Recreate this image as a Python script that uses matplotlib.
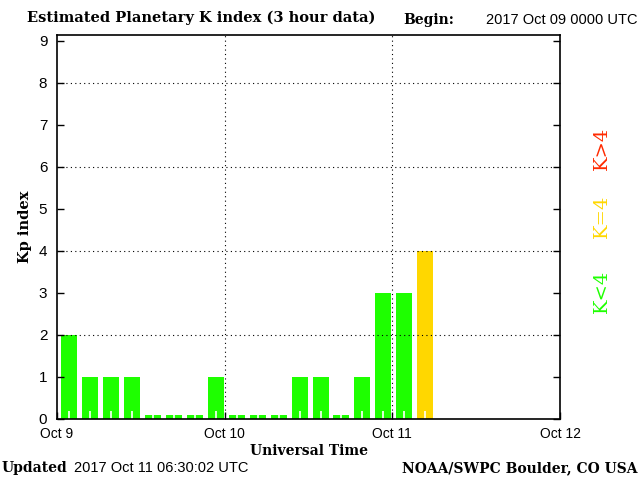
import numpy as np
import matplotlib
matplotlib.use('Agg')
import matplotlib.pyplot as plt

# Kp values, 3 hour intervals starting 2017 Oct 09 0000 UTC
kp = [2, 1, 1, 1, 0, 0, 0, 1,
      0, 0, 0, 1, 1, 0, 1, 3,
      3, 4]
day_labels = ['Oct 9', 'Oct 10', 'Oct 11', 'Oct 12']

green = '#1eff00'
yellow = '#ffd700'
red = '#ff2a00'

hours = np.arange(len(kp)) * 3 + 1.72
heights = [v if v > 0 else 0.09 for v in kp]
colors = [green if v < 4 else (yellow if v == 4 else red) for v in kp]

fig = plt.figure(figsize=(6.4, 4.8), dpi=100)
ax = fig.add_axes([57 / 640, 61 / 480, 503 / 640, 384 / 480])

ax.bar(hours, heights, width=2.29, color=colors, linewidth=0)
# petites marques blanches au centre des barres
ax.vlines(hours, 0, 0.2, color='white', linewidth=1.2)

ax.set_xlim(0, 72)
ax.set_ylim(0, 9.14)
ax.set_xticks([0, 24, 48, 72])
ax.set_xticklabels(day_labels, fontsize=10, family='Liberation Sans')
ax.set_yticks(range(10))
ax.set_yticklabels([str(i) for i in range(10)], fontsize=11, family='Liberation Sans')
ax.tick_params(direction='in', length=5, width=1, right=True, pad=6)
ax.tick_params(axis='y', pad=7)

for y in [2, 4, 6, 8]:
    ax.axhline(y, color='black', linestyle=(0, (1, 3)), linewidth=0.8)
for x in [24, 48]:
    ax.axvline(x, color='black', linestyle=(0, (1, 3)), linewidth=0.8)

for s in ax.spines.values():
    s.set_linewidth(1.2)

ax.set_xlabel('Universal Time', fontsize=10, fontweight='bold', family='DejaVu Serif', labelpad=2)
ax.set_ylabel('Kp index', fontsize=10.5, fontweight='bold', family='DejaVu Serif', labelpad=5)

fig.text(27 / 640, 1 - 18 / 480, 'Estimated Planetary K index (3 hour data)',
         fontsize=10.5, fontweight='bold', family='DejaVu Serif', va='center')
fig.text(403 / 640, 1 - 20 / 480, 'Begin:', fontsize=10, fontweight='bold',
         family='DejaVu Serif', va='center')
fig.text(637 / 640, 1 - 20 / 480, '2017 Oct 09 0000 UTC', fontsize=10.5,
         family='Liberation Sans', va='center', ha='right')

fig.text(2 / 640, 1 - 468 / 480, 'Updated', fontsize=10, fontweight='bold',
         family='DejaVu Serif', va='center')
fig.text(74 / 640, 1 - 468 / 480, '2017 Oct 11 06:30:02 UTC', fontsize=10.5,
         family='Liberation Sans', va='center')
fig.text(637 / 640, 1 - 468 / 480, 'NOAA/SWPC Boulder, CO USA', fontsize=10,
         fontweight='bold', family='DejaVu Serif', va='center', ha='right')

fig.text(602 / 640, 1 - 291 / 480, 'K<4', color=green, rotation=90, fontsize=14,
         family='DejaVu Serif', ha='center', va='center')
fig.text(602 / 640, 1 - 216 / 480, 'K=4', color=yellow, rotation=90, fontsize=14,
         family='DejaVu Serif', ha='center', va='center')
fig.text(602 / 640, 1 - 148 / 480, 'K>4', color=red, rotation=90, fontsize=14,
         family='DejaVu Serif', ha='center', va='center')

fig.savefig('out.png', dpi=100)
